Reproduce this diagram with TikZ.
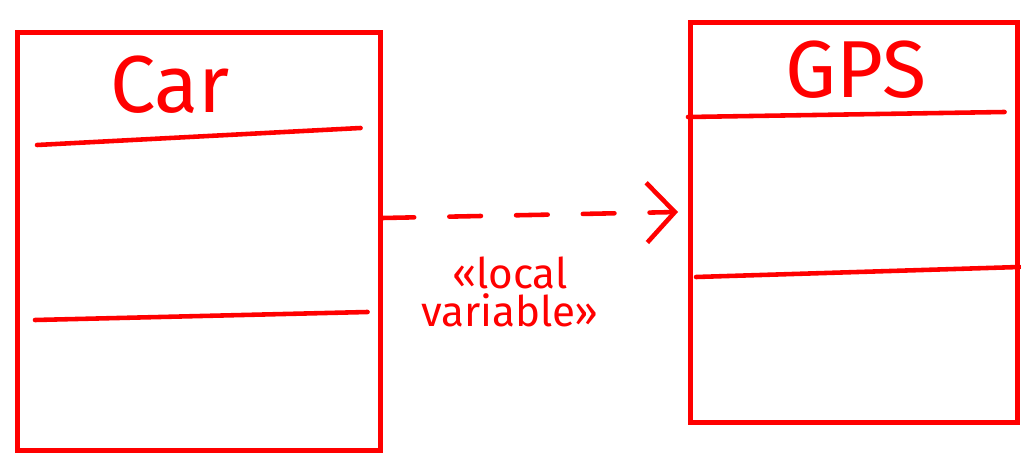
\documentclass[tikz,border=0pt]{standalone}
\usepackage{fontspec}
\setmainfont{Fira Sans}
\usetikzlibrary{arrows.meta, positioning, calc}
\definecolor{InkRed}{HTML}{FF0000}
\tikzset{
  x=0.02cm, y=-0.02cm,
  classbox/.style={
    rectangle, draw=InkRed, line width=2.6pt, anchor=north west,
    inner sep=0pt
  },
  divider/.style={draw=InkRed, line width=2.6pt, line cap=round},
  classname/.style={
    text=InkRed, font=\fontsize{46}{50}\selectfont
  },
  dependency/.style={
    draw=InkRed, line width=2.6pt, line cap=round,
    dash pattern=on 18pt off 20pt,
    -{Straight Barb[length=16pt, width=34pt, line width=2.6pt]}
  },
  stereo/.style={
    text=InkRed, font=\fontsize{24}{26}\selectfont, align=center
  }
}

\begin{document}
\begin{tikzpicture}
\useasboundingbox (0,0) rectangle (1021,459);

% class boxes
\node[classbox, minimum width=363*0.02cm, minimum height=418*0.02cm] (car) at (15,30) {};
\node[classbox, minimum width=327*0.02cm, minimum height=400*0.02cm] (gps) at (688,20) {};

% class names
\node[classname] (carname) at (170,85) {Car};
\node[classname] (gpsname) at (856,70) {GPS};

% compartments
\draw[divider] ($(car.north west)+(22,115)$) -- ($(car.north east)+(-22,98)$);
\draw[divider] ($(car.north west)+(20,290)$) -- ($(car.north east)+(-15,282)$);
\draw[divider] ($(gps.north west)+(0,97)$) -- ($(gps.north east)+(-15,92)$);
\draw[divider] ($(gps.north west)+(8,257)$) -- ($(gps.north east)+(0,247)$);

% dependency
\coordinate (depstart) at (car.east |- 0,218);
\coordinate (depend) at ($(gps.west |- 0,212)+(-10,0)$);
\draw[dependency] (depstart) -- (depend);
\node[stereo] (deplabel) at (510,292) {«local\\[-4pt]variable»};

\end{tikzpicture}
\end{document}
